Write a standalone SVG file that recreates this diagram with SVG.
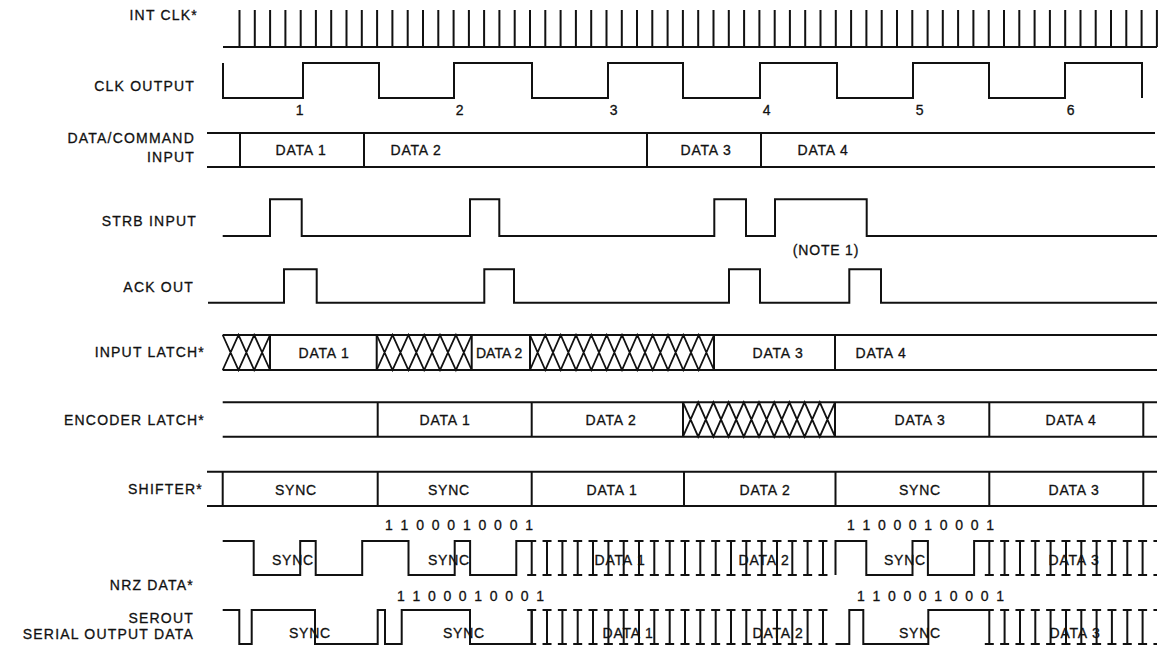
<svg xmlns="http://www.w3.org/2000/svg" xmlns:xlink="http://www.w3.org/1999/xlink" width="1159" height="648" viewBox="0 0 1159 648">
<style>
.bg{fill:#fff}
.w{fill:none;stroke:#111;stroke-width:2;stroke-linejoin:miter;stroke-linecap:butt}
.h{fill:none;stroke:#111;stroke-width:1.8}
.d{fill:none;stroke:#111;stroke-width:2;stroke-dasharray:9 6.33}
.lbl{font-family:"Liberation Sans",Arial,Helvetica,sans-serif;font-size:14px;letter-spacing:1.2px;fill:#111;text-anchor:end;stroke:#111;stroke-width:0.3}
.t{font-family:"Liberation Sans",Arial,Helvetica,sans-serif;font-size:14px;letter-spacing:0.8px;fill:#111;text-anchor:middle;stroke:#111;stroke-width:0.3}
.b{font-family:"Liberation Sans",Arial,Helvetica,sans-serif;font-size:14px;fill:#111;stroke:#111;stroke-width:0.3}
</style>
<defs>
<path id="dv" class="w" d="M531.7,0v34M547,0v34M562.4,0v34M577.7,0v34M593,0v34M608.4,0v34M623.7,0v34M639,0v34M654.3,0v34M669.7,0v34M685,0v34M700.3,0v34M715.7,0v34M731,0v34M746.3,0v34M761.7,0v34M777,0v34M792.3,0v34M807.6,0v34M823,0v34M989.3,0v34M1004.6,0v34M1020,0v34M1035.3,0v34M1050.6,0v34M1066,0v34M1081.3,0v34M1096.6,0v34M1111.9,0v34M1127.3,0v34M1142.6,0v34"/>
<path id="dh" class="d" d="M527.2,0H832M527.2,34H832M984.8,0H1157M984.8,34H1157"/>
</defs>
<rect class="bg" x="0" y="0" width="1159" height="648"/>

<g id="int-clk">
<text class="lbl" x="198" y="20">INT CLK*</text>
<path class="w" d="M223,47H1157M239.5,10V47M254.8,10V47M270.1,10V47M285.4,10V47M300.7,10V47M315.9,10V47M331.2,10V47M346.5,10V47M361.8,10V47M377.1,10V47M392.4,10V47M407.7,10V47M423,10V47M438.3,10V47M453.6,10V47M468.9,10V47M484.1,10V47M499.4,10V47M514.7,10V47M530,10V47M545.3,10V47M560.6,10V47M575.9,10V47M591.2,10V47M606.5,10V47M621.8,10V47M637,10V47M652.3,10V47M667.6,10V47M682.9,10V47M698.2,10V47M713.5,10V47M728.8,10V47M744.1,10V47M759.4,10V47M774.7,10V47M789.9,10V47M805.2,10V47M820.5,10V47M835.8,10V47M851.1,10V47M866.4,10V47M881.7,10V47M897,10V47M912.3,10V47M927.6,10V47M942.8,10V47M958.1,10V47M973.4,10V47M988.7,10V47M1004,10V47M1019.3,10V47M1034.6,10V47M1049.9,10V47M1065.2,10V47M1080.5,10V47M1095.7,10V47M1111,10V47M1126.3,10V47M1141.6,10V47M1156.9,10V47"/>
</g>

<g id="clk-output">
<text class="lbl" x="195" y="91">CLK OUTPUT</text>
<path class="w" d="M223,63V98H303V63H379V98H454V63H532V98H608V63H683V98H760V63H837V98H913V63H989V98H1065V63H1142V98"/>
<text class="t" x="300" y="115">1</text>
<text class="t" x="460" y="115">2</text>
<text class="t" x="614" y="115">3</text>
<text class="t" x="767" y="115">4</text>
<text class="t" x="920" y="115">5</text>
<text class="t" x="1071" y="115">6</text>
</g>

<g id="data-command-input">
<text class="lbl" x="195" y="143">DATA/COMMAND</text>
<text class="lbl" x="195" y="162">INPUT</text>
<path class="w" d="M207,133H1155M207,167H1155M240,133V167M364,133V167M647,133V167M761,133V167"/>
<text class="t" x="301" y="155">DATA 1</text>
<text class="t" x="416" y="155">DATA 2</text>
<text class="t" x="706" y="155">DATA 3</text>
<text class="t" x="823" y="155">DATA 4</text>
</g>

<g id="strb-input">
<text class="lbl" x="197" y="226">STRB INPUT</text>
<path class="w" d="M222.7,236H270V199.3H301.7V236H470V199.3H499.3V236H714.3V199.3H746V236H775V199.3H866.7V236H1157"/>
<text class="t" x="826" y="255">(NOTE 1)</text>
</g>

<g id="ack-out">
<text class="lbl" x="194" y="292">ACK OUT</text>
<path class="w" d="M208,302.7H284V269.3H316.7V302.7H484.3V269.3H514V302.7H729V269.3H760V302.7H849.3V269.3H881V302.7H1157"/>
</g>

<g id="input-latch">
<text class="lbl" x="205" y="357">INPUT LATCH*</text>
<path class="w" d="M222.7,335H1157M222.7,370H1157M270,335V370M376.7,335V370M471.7,335V370M530,335V370M714,335V370M835,335V370"/>
<path class="h" d="M222.7,335L238.5,370L254.2,335L270,370M222.7,370L238.5,335L254.2,370L270,335M376.7,335L392.5,370L408.4,335L424.2,370L440,335L455.9,370L471.7,335M376.7,370L392.5,335L408.4,370L424.2,335L440,370L455.9,335L471.7,370M530,335L545.3,370L560.7,335L576,370L591.3,335L606.7,370L622,335L637.3,370L652.7,335L668,370L683.3,335L698.7,370L714,335M530,370L545.3,335L560.7,370L576,335L591.3,370L606.7,335L622,370L637.3,335L652.7,370L668,335L683.3,370L698.7,335L714,370"/>
<text class="t" x="324" y="357.5">DATA 1</text>
<text class="b" x="476" y="357.5">DATA 2</text>
<text class="t" x="778" y="357.5">DATA 3</text>
<text class="t" x="881" y="357.5">DATA 4</text>
</g>

<g id="encoder-latch">
<text class="lbl" x="205" y="425">ENCODER LATCH*</text>
<path class="w" d="M222.7,402.3H1157M222.7,436.7H1157M377.7,402.3V436.7M531.7,402.3V436.7M683,402.3V436.7M835,402.3V436.7M989.3,402.3V436.7M1143.3,402.3V436.7"/>
<path class="h" d="M683,402.3L698.2,436.7L713.4,402.3L728.6,436.7L743.8,402.3L759,436.7L774.2,402.3L789.4,436.7L804.6,402.3L819.8,436.7L835,402.3M683,436.7L698.2,402.3L713.4,436.7L728.6,402.3L743.8,436.7L759,402.3L774.2,436.7L789.4,402.3L804.6,436.7L819.8,402.3L835,436.7"/>
<text class="t" x="445" y="424.5">DATA 1</text>
<text class="t" x="611" y="424.5">DATA 2</text>
<text class="t" x="920" y="424.5">DATA 3</text>
<text class="t" x="1071" y="424.5">DATA 4</text>
</g>

<g id="shifter">
<text class="lbl" x="203" y="494">SHIFTER*</text>
<path class="w" d="M207,471.7H1157M207,506H1157M222.7,471.7V506M377.7,471.7V506M531.7,471.7V506M684,471.7V506M835.5,471.7V506M989.3,471.7V506M1143.3,471.7V506"/>
<text class="t" x="296" y="495">SYNC</text>
<text class="t" x="449" y="495">SYNC</text>
<text class="t" x="612" y="495">DATA 1</text>
<text class="t" x="765" y="495">DATA 2</text>
<text class="t" x="920" y="495">SYNC</text>
<text class="t" x="1074" y="495">DATA 3</text>
</g>

<g id="nrz-data">
<text class="lbl" x="194" y="590">NRZ DATA*</text>
<text class="b" x="385" y="530" textLength="148" lengthAdjust="spacing">1 1 0 0 0 1 0 0 0 1</text>
<text class="b" x="847" y="530" textLength="147" lengthAdjust="spacing">1 1 0 0 0 1 0 0 0 1</text>
<text class="t" x="293" y="565">SYNC</text>
<text class="t" x="449" y="565">SYNC</text>
<text class="t" x="905" y="565">SYNC</text>
<text class="t" x="620" y="565">DATA 1</text>
<text class="t" x="764" y="565">DATA 2</text>
<text class="t" x="1074" y="565">DATA 3</text>
<path class="w" d="M222.7,541H253.7V575H300.2V541H315.7V575H362.2V541H408.5V575H454.7V541H470.1V575H516.3V541H531.7M835.5,575V541H866.3V575H912.5V541H927.9V575H974.1V541H989.3"/>
<use xlink:href="#dv" y="541"/>
<use xlink:href="#dh" y="541"/>
</g>

<g id="serout">
<text class="lbl" x="194" y="623">SEROUT</text>
<text class="lbl" x="194" y="639">SERIAL OUTPUT DATA</text>
<text class="b" x="397" y="601" textLength="147" lengthAdjust="spacing">1 1 0 0 0 1 0 0 0 1</text>
<text class="b" x="857" y="601" textLength="147" lengthAdjust="spacing">1 1 0 0 0 1 0 0 0 1</text>
<text class="t" x="310" y="638">SYNC</text>
<text class="t" x="464" y="638">SYNC</text>
<text class="t" x="920" y="638">SYNC</text>
<text class="t" x="628" y="638">DATA 1</text>
<text class="t" x="778" y="638">DATA 2</text>
<text class="t" x="1075" y="638">DATA 3</text>
<path class="w" d="M222.7,610H239.3V644H251.7V610H315V644H377.7V610H385V644H401.7V610H470V644H531.7V610M835.5,644H849.3V610H863.3V644H928.3V610H989.3"/>
<use xlink:href="#dv" y="610"/>
<use xlink:href="#dh" y="610"/>
</g>

<g id="connectors"></g>
</svg>
